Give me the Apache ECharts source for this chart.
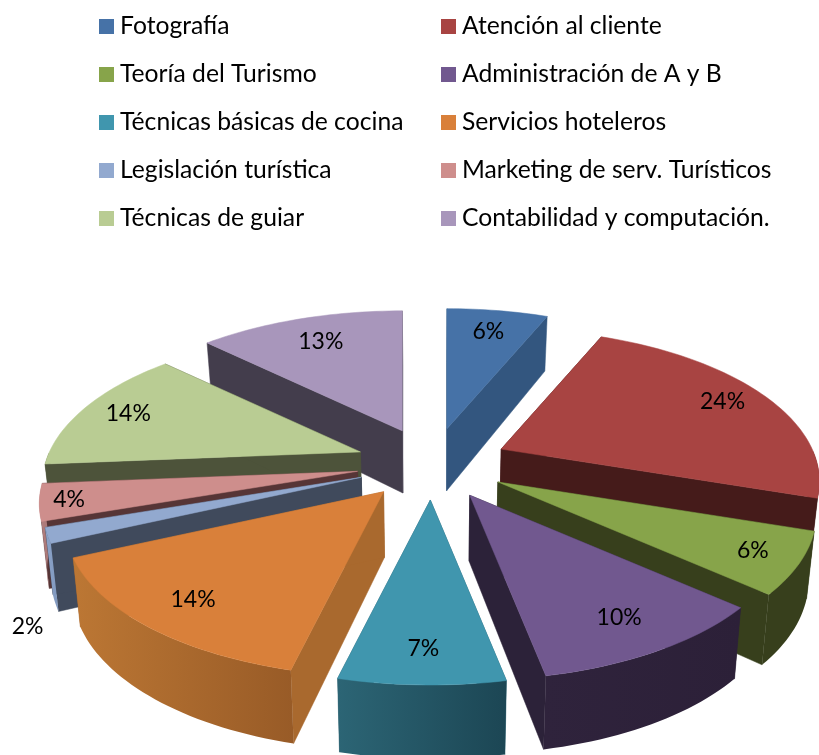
<!DOCTYPE html>
<html>
<head>
<meta charset="utf-8">
<style>html,body{margin:0;padding:0;background:#fff}#c{width:819px;height:755px}</style>
<script src="https://cdn.jsdelivr.net/npm/echarts@6/dist/echarts.min.js"></script>
</head>
<body>
<div id="c"></div>
<script>
// ---- data ----
const categories = ['Fotografía','Atención al cliente','Teoría del Turismo','Administración de A y B','Técnicas básicas de cocina','Servicios hoteleros','Legislación turística','Marketing de serv. Turísticos','Técnicas de guiar','Contabilidad y computación.'];
const shares = [6.3, 23.8, 6.45, 10.35, 6.9, 14.4, 1.6, 3.9, 13.5, 12.8];

// ---- styles ----
const topColors  = ['#4672A7','#A84442','#87A44A','#71588F','#4096AE','#D9803A','#92A9CF','#CE8E8C','#B9CC93','#A896BB'];
const faceColors = ['#33567F','#451B1A','#373F1C','#2C2239','#235A6A','#A9692E','#404A5C','#563536','#4D533A','#433D4C'];
const rimLight   = ['#33567F','#451B1A','#373F1C','#2F233C','#2C6575','#BC7734','#8CA3C8','#B38080','#4D533A','#433D4C'];
const rimDark    = ['#33567F','#451B1A','#373F1C','#2C2038','#1C4654','#985B27','#8098BE','#A87675','#4D533A','#433D4C'];
const drawOrder  = [9, 0, 1, 8, 2, 3, 7, 6, 5, 4];       // back to front
const labelRadius = [0.79, 0.84, 0.86, 0.82, 0.84, 0.83, 1, 0.91, 0.84, 0.77];
const FONT = 'Lato';

// ---- projection of the tilted pie ----
const CX = 432, CY = 464, RX = 311, RY = 145.6, PERSP = 0.213;
const EXPLODE_X = 76, EXPLODE_Y = 36;
const rad = d => d * Math.PI / 180;

function renderSlice(params, api) {
  const i = api.value(2);
  const a0 = api.value(1) * 3.6, a1 = (api.value(1) + api.value(0)) * 3.6, mid = (a0 + a1) / 2;
  const mu = Math.sin(rad(mid)), mv = -Math.cos(rad(mid));
  const ax = CX + EXPLODE_X * mu, ay = CY + EXPLODE_Y * mv;
  // top-surface point at given angle & radius
  const P = (deg, r) => {
    const u = Math.sin(rad(deg)) * r, v = -Math.cos(rad(deg)) * r;
    const s = 1 / (1 - PERSP * v);
    return [ax + RX * u * s, ay + RY * v * s, v + 0.25 * mv];
  };
  // the same point on the bottom surface
  const B = p => [CX + (p[0] - CX) * 0.98, p[1] + 64 + 8 * p[2]];
  const T = p => [p[0], p[1]];
  const apex = P(0, 0);
  const arc = [];
  const steps = Math.max(2, Math.ceil((a1 - a0) / 1.5));
  for (let k = 0; k <= steps; k++) arc.push(a0 + (a1 - a0) * k / steps);
  const poly = (pts, fill, stroke) => ({
    type: 'polygon', shape: { points: pts },
    style: { fill: fill, stroke: stroke || fill, lineWidth: 0.5 }
  });
  const children = [];
  // radial faces
  children.push(poly([T(apex), T(P(a0, 1)), B(P(a0, 1)), B(apex)], faceColors[i]));
  children.push(poly([T(apex), T(P(a1, 1)), B(P(a1, 1)), B(apex)], faceColors[i]));
  // front part of the rim
  const front = arc.filter(d => d >= 90 && d <= 270);
  if (front.length > 1) {
    const tops = front.map(d => P(d, 1));
    const pts = tops.map(T).concat(tops.slice().reverse().map(B));
    children.push(poly(pts, new echarts.graphic.LinearGradient(0, 0, 1, 0, [
      { offset: 0, color: rimLight[i] }, { offset: 1, color: rimDark[i] }
    ]), 'rgba(0,0,0,0)'));
  }
  // top surface
  children.push(poly([T(apex)].concat(arc.map(d => T(P(d, 1)))), topColors[i]));
  // percentage
  let lp = P(mid, labelRadius[i]);
  if (categories[i] === 'Legislación turística') lp = [lp[0] - 20, lp[1] + 91];
  children.push({
    type: 'text', z2: 50,
    style: { text: Math.round(api.value(0)) + '%', x: lp[0], y: lp[1], fill: '#000',
      font: '23px ' + FONT, align: 'center', verticalAlign: 'middle' }
  });
  return { type: 'group', children: children };
}

let cum = 0;
const series = categories.map((name, i) => {
  const row = [shares[i], cum, i];
  cum += shares[i];
  return {
    type: 'custom', name: name, coordinateSystem: 'none',
    z: 2 + drawOrder.indexOf(i), silent: true, animation: false,
    itemStyle: { color: topColors[i] },
    encode: { value: 0 },
    renderItem: renderSlice, data: [row]
  };
});

const legendBase = {
  orient: 'vertical', icon: 'rect', itemWidth: 15, itemHeight: 15, itemGap: 23,
  selectedMode: false, padding: 0,
  textStyle: { fontFamily: FONT, fontSize: 24.7, color: '#000', lineHeight: 24, padding: [0,0,0,1] }
};
const chart = echarts.init(document.getElementById('c'), null, { renderer: 'canvas' });
chart.setOption({
  animation: false,
  backgroundColor: '#fff',
  legend: [
    Object.assign({}, legendBase, { left: 99, top: 14, data: categories.filter((c, i) => i % 2 === 0) }),
    Object.assign({}, legendBase, { left: 441, top: 14, data: categories.filter((c, i) => i % 2 === 1) })
  ],
  series: series
});
</script>
</body>
</html>
